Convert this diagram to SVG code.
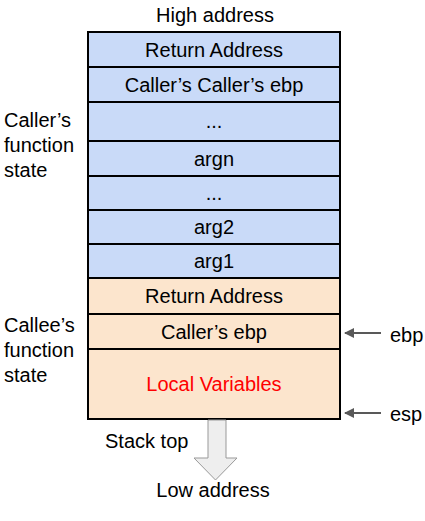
<svg xmlns="http://www.w3.org/2000/svg" width="425" height="521" viewBox="0 0 425 521">
<style>
text{font-family:"Liberation Sans",Arial,sans-serif;font-size:20px;fill:#000}
.c{text-anchor:middle}
.b{fill:#c9daf8;stroke:#000;stroke-width:2}
.o{fill:#fce5cd;stroke:#000;stroke-width:2}
.p{stroke:#595959;stroke-width:2;fill:none}
</style>
<defs><marker id="ah" viewBox="0 0 10 10" refX="9" refY="5" markerWidth="5" markerHeight="5" orient="auto"><path d="M0,0L10,5L0,10z" fill="#595959"/></marker></defs>
<rect width="425" height="521" fill="#fff"/>
<text class="c" x="215" y="22">High address</text>
<g id="r1"><rect class="b" x="88" y="32" width="252" height="35"/><text class="c" x="214" y="57">Return Address</text></g>
<g id="r2"><rect class="b" x="88" y="67" width="252" height="35"/><text class="c" x="214" y="92">Caller’s Caller’s ebp</text></g>
<g id="r3"><rect class="b" x="88" y="102" width="252" height="39"/><text class="c" x="214" y="128">...</text></g>
<g id="r4"><rect class="b" x="88" y="141" width="252" height="35"/><text class="c" x="214" y="166">argn</text></g>
<g id="r5"><rect class="b" x="88" y="176" width="252" height="34"/><text class="c" x="214" y="200">...</text></g>
<g id="r6"><rect class="b" x="88" y="210" width="252" height="34"/><text class="c" x="214" y="234">arg2</text></g>
<g id="r7"><rect class="b" x="88" y="244" width="252" height="34"/><text class="c" x="214" y="268">arg1</text></g>
<g id="r8"><rect class="o" x="88" y="278" width="252" height="36"/><text class="c" x="214" y="303">Return Address</text></g>
<g id="r9"><rect class="o" x="88" y="314" width="252" height="35"/><text class="c" x="214" y="339">Caller’s ebp</text></g>
<g id="r10"><rect class="o" x="88" y="349" width="252" height="70"/><text class="c" x="214" y="391" style="fill:#ff0000">Local Variables</text></g>
<g id="callerLabel"><text x="4" y="127">Caller’s</text><text x="4" y="152">function</text><text x="4" y="177">state</text></g>
<g id="calleeLabel"><text x="4" y="332">Callee’s</text><text x="4" y="357">function</text><text x="4" y="382">state</text></g>
<g id="connectors">
<path class="p" d="M381,333H345" marker-end="url(#ah)"/>
<path class="p" d="M381,413H345" marker-end="url(#ah)"/>
<path d="M208,420H226V458H237L215.5,480L194,458H208Z" fill="#eeeeee" stroke="#999" stroke-width="1"/>
</g>
<text x="390" y="342">ebp</text>
<text x="390" y="421">esp</text>
<text x="105" y="448">Stack top</text>
<text class="c" x="213" y="497">Low address</text>
</svg>
